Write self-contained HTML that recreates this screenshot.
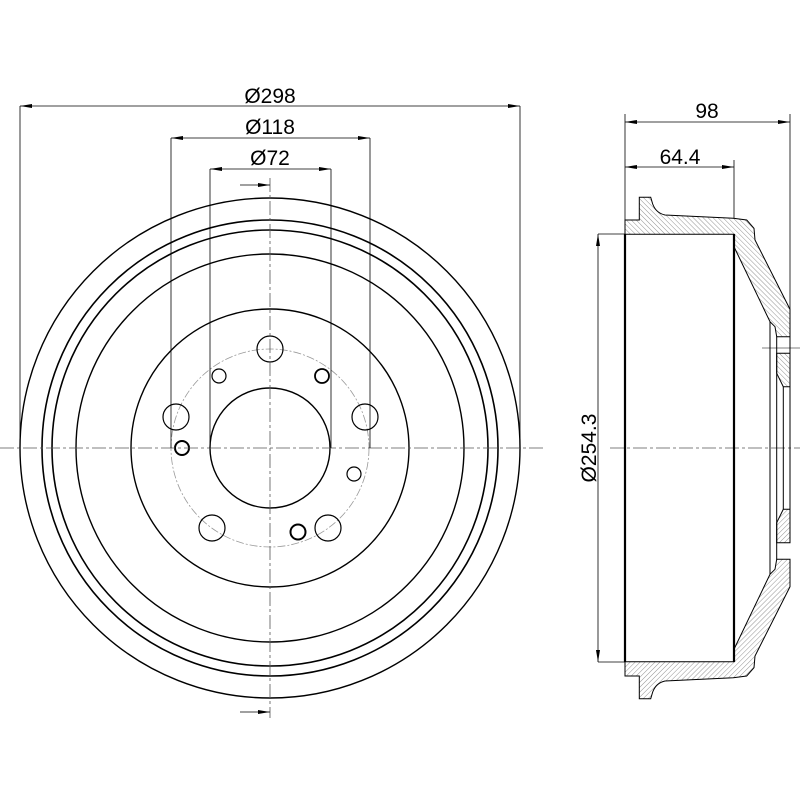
<!DOCTYPE html>
<html><head><meta charset="utf-8"><style>html,body{margin:0;padding:0;background:#fff}svg{display:block}</style></head>
<body>
<svg width="800" height="800" viewBox="0 0 800 800" xmlns="http://www.w3.org/2000/svg" font-family="Liberation Sans, sans-serif">
<defs>
<pattern id="h" patternUnits="userSpaceOnUse" width="3.5" height="3.5" patternTransform="rotate(-45)">
<line x1="0" y1="0" x2="0" y2="3.5" stroke="#777" stroke-width="0.8"/>
</pattern>
<marker id="a" markerWidth="12" markerHeight="6" refX="12" refY="3" orient="auto" markerUnits="userSpaceOnUse">
<path d="M0,1 L12,3 L0,5 Z" fill="#000"/>
</marker>
</defs>
<g fill="none" stroke="#000">
<!-- front view circles -->
<circle cx="270" cy="448" r="250" stroke-width="1.4"/>
<circle cx="270" cy="448" r="228" stroke-width="1.6"/>
<circle cx="270" cy="448" r="218" stroke-width="1.6"/>
<circle cx="270" cy="448" r="194" stroke-width="1.4"/>
<circle cx="270" cy="448" r="139" stroke-width="1.4"/>
<circle cx="270" cy="448" r="60" stroke-width="1.4"/>
<circle cx="270" cy="448" r="99" stroke="#999" stroke-width="0.8" stroke-dasharray="8,2,2,2"/>
<!-- holes -->
<circle cx="270" cy="349" r="13" stroke-width="1.2"/>
<circle cx="176" cy="417" r="13" stroke-width="1.2"/>
<circle cx="365" cy="417" r="13" stroke-width="1.2"/>
<circle cx="212" cy="528" r="13" stroke-width="1.2"/>
<circle cx="328" cy="528" r="13" stroke-width="1.2"/>
<circle cx="219" cy="376" r="7" stroke-width="1.2"/>
<circle cx="322" cy="376" r="7" stroke-width="1.8"/>
<circle cx="182" cy="448" r="7" stroke-width="2"/>
<circle cx="354" cy="474" r="7" stroke-width="1.2"/>
<circle cx="298" cy="532" r="7.5" stroke-width="2"/>
<!-- centerlines -->
<line x1="0" y1="448" x2="545" y2="448" stroke="#555" stroke-width="0.8" stroke-dasharray="14,3,3,3"/>
<line x1="270" y1="178" x2="270" y2="718" stroke="#555" stroke-width="0.8" stroke-dasharray="14,3,3,3"/>
<line x1="610" y1="448" x2="800" y2="448" stroke="#555" stroke-width="0.8" stroke-dasharray="14,3,3,3"/>
<line x1="762" y1="348" x2="800" y2="348" stroke="#555" stroke-width="0.8"/>
<!-- small center arrows -->
<line x1="240" y1="185" x2="270" y2="185" stroke-width="0.8" marker-end="url(#a)"/>
<line x1="240" y1="712" x2="270" y2="712" stroke-width="0.8" marker-end="url(#a)"/>
<!-- front dims -->
<g stroke-width="0.8">
<line x1="20" y1="106" x2="20" y2="448"/><line x1="520" y1="106" x2="520" y2="448"/>
<line x1="171" y1="138" x2="171" y2="448"/><line x1="370" y1="138" x2="370" y2="448"/>
<line x1="210" y1="169" x2="210" y2="448"/><line x1="331" y1="169" x2="331" y2="448"/>
<line x1="270" y1="106" x2="20" y2="106" marker-end="url(#a)"/><line x1="270" y1="106" x2="520" y2="106" marker-end="url(#a)"/>
<line x1="270" y1="138" x2="171" y2="138" marker-end="url(#a)"/><line x1="270" y1="138" x2="370" y2="138" marker-end="url(#a)"/>
<line x1="270" y1="169" x2="210" y2="169" marker-end="url(#a)"/><line x1="270" y1="169" x2="331" y2="169" marker-end="url(#a)"/>
</g>
<!-- side view -->
<g stroke-width="0.8">
<line x1="625" y1="114" x2="625" y2="220"/><line x1="790" y1="114" x2="790" y2="310"/><line x1="734" y1="160" x2="734" y2="218"/>
<line x1="707" y1="122" x2="625" y2="122" marker-end="url(#a)"/><line x1="707" y1="122" x2="790" y2="122" marker-end="url(#a)"/>
<line x1="680" y1="167" x2="625" y2="167" marker-end="url(#a)"/><line x1="680" y1="167" x2="734" y2="167" marker-end="url(#a)"/>
<line x1="598" y1="234" x2="625" y2="234"/><line x1="598" y1="662" x2="625" y2="662"/>
<line x1="598" y1="448" x2="598" y2="234" marker-end="url(#a)"/><line x1="598" y1="448" x2="598" y2="662" marker-end="url(#a)"/>
</g>
<g id="sec">
<path d="M625,220 L639.3,220 L639.3,197.3 L650.7,197.3 L652.7,204 Q656,213 665,215 L733.3,218.3 L746.7,220 L754,228.3 L755,240 L790,309.3 L790,336.7 L776.7,336.7 L775,326.7 L770,321.7 L734,246.7 L734,234.3 L625,234.3 Z" fill="url(#h)" stroke-width="1"/>
<path d="M776.7,353.3 L790,353.3 L790,386.7 L783.3,386.7 L776.7,373.3 Z" fill="url(#h)" stroke-width="1"/>
</g>
<use href="#sec" transform="translate(0,896) scale(1,-1)"/>
<line x1="625" y1="234" x2="625" y2="662" stroke-width="2.2"/>
<line x1="734" y1="234" x2="734" y2="662" stroke-width="2.2"/>
<g stroke-width="1">
<line x1="770" y1="321.7" x2="770" y2="574.3"/>
<line x1="776.7" y1="336.7" x2="776.7" y2="559.3"/>
<line x1="783.3" y1="386.7" x2="783.3" y2="509.3"/>
<line x1="790" y1="386.7" x2="790" y2="509.3"/>
<line x1="790" y1="336.7" x2="790" y2="353.3"/>
</g>
</g>
<g font-size="21" fill="#000" text-anchor="middle">
<text x="270" y="103">Ø298</text>
<text x="270" y="134">Ø118</text>
<text x="270" y="165">Ø72</text>
<text x="707" y="118">98</text>
<text x="680" y="164">64.4</text>
<text x="0" y="0" transform="translate(596,448) rotate(-90)">Ø254.3</text>
</g>
</svg>
</body></html>
